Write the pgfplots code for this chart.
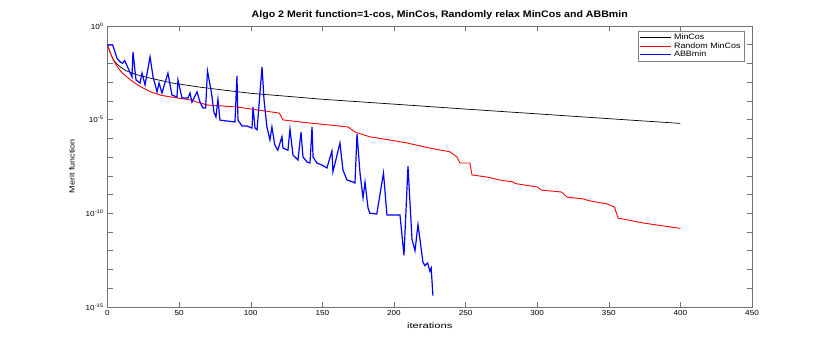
\documentclass[border=0pt]{standalone}
\usepackage{fontspec}
\setmainfont{Liberation Sans}
\usepackage{graphicx}
\usepackage{pgfplots}
\pgfplotsset{compat=1.18}
\begin{document}
\begin{tikzpicture}[x=1bp,y=1bp]
\path[use as bounding box] (0,0) rectangle (830,346);
\begin{axis}[
  at={(107.5bp,39.1bp)}, anchor=south west, scale only axis,
  width=644.5bp, height=281.1bp,
  xmin=0, xmax=450, ymin=1e-15, ymax=1, ymode=log,
  xtick={0,50,...,450},
  ytick={1e-15,1e-10,1e-5,1},
  yticklabels={10\textsuperscript{-15},10\textsuperscript{-10},10\textsuperscript{-5},10\textsuperscript{0}},
  minor ytick={1e-1,1e-2,1e-3,1e-4,1e-6,1e-7,1e-8,1e-9,1e-11,1e-12,1e-13,1e-14},
  tick align=inside, tick pos=both,
  major tick length=5bp, minor tick length=5bp,
  axis line style={black!55}, every tick/.style={black!55},
  /pgf/number format/assume math mode=true,
  tick label style={font=\fontsize{7.3}{8}\selectfont, xscale=1.12},
  title={\scalebox{1.12}[1]{Algo 2 Merit function=1-cos, MinCos, Randomly relax MinCos and ABBmin}},
  title style={font=\fontsize{9.5}{11}\bfseries\selectfont, yshift=-3bp, xshift=10bp},
  xlabel={\scalebox{1.4}[1]{iterations}},
  xlabel style={font=\fontsize{8}{10}\selectfont},
  ylabel={\scalebox{1.2}[1]{Merit function}},
  ylabel style={font=\fontsize{7.5}{9}\selectfont, at={(axis description cs:-0.055,0.5)}, anchor=center},
  legend style={at={(1,1)}, xshift=-8bp, yshift=-5bp, anchor=north east,
    draw=black!50, font=\fontsize{7.8}{8}\selectfont, inner sep=1.2bp,
    row sep=-2.6bp},
  legend cell align=left,
  legend image code/.code={\draw[#1] (0bp,0bp) -- (31bp,0bp);},
]
\addplot[black, line width=0.7bp] coordinates {
(0,1.0e-1) (2,3.5e-2) (4,1.6e-2) (6,1.0e-2) (9,6.3e-3) (13,4.0e-3) (20,2.5e-3)
(30,1.6e-3) (45,8.9e-4) (64,5.4e-4) (80,3.8e-4) (100,2.5e-4) (125,1.74e-4)
(150,1.2e-4) (200,6.6e-5) (250,3.6e-5) (300,2.0e-5) (365,9.3e-6) (400,6.2e-6)
};
\addlegendentry{\scalebox{1.15}[1]{MinCos}}
\addplot[red, line width=0.9bp] coordinates {
(0,9.5e-2) (2,3.5e-2) (4,1.5e-2) (7,6.3e-3) (10,3.2e-3) (16,1.3e-3) (22,6.3e-4)
(30,3.0e-4) (37,2.0e-4) (44,1.6e-4) (58,1.1e-4) (64,7.9e-5) (70,5.9e-5)
(90,4.7e-5) (105,3.2e-5) (120,2.2e-5) (122.5,9.5e-6) (141,6.5e-6) (155,5.1e-6)
(168,4.0e-6) (173,2.1e-6) (183,1.2e-6) (197,8.1e-7) (209,5.6e-7) (225,3.0e-7)
(239,1.9e-7) (244,1.0e-7) (246,4.8e-8) (253,4.8e-8) (254.5,1.1e-8) (265,8.5e-9)
(274,5.9e-9) (283,4.7e-9) (285,3.8e-9) (300,2.5e-9) (303,1.7e-9) (317,1.35e-9)
(321,7.2e-10) (332,5.8e-10) (337,4.5e-10) (349,3.1e-10) (354,2.1e-10)
(356.5,5.5e-11) (374,3.0e-11) (400,1.55e-11)
};
\addlegendentry{\scalebox{1.15}[1]{Random MinCos}}
\addplot[blue, line width=1.2bp] coordinates {
(0,9.5e-2) (3.6,9.5e-2) (6.6,1.9e-2) (8.7,1.2e-2) (10.5,1.0e-2) (12,1.4e-2)
(17.1,1.9e-3) (17.8,4.0e-2) (19.9,1.3e-3) (22.7,8.9e-4) (24.1,3.0e-3)
(26.2,6.9e-4) (29.7,2.2e-2) (31.8,1.9e-3) (34.6,3.0e-4) (36,8.9e-4) (38,2.6e-4)
(42.2,3.0e-3) (45,2.0e-4) (48.5,1.6e-4) (49.2,1.3e-3) (52,1.4e-4) (56.2,1.4e-4)
(57.6,2.6e-4) (59,8.5e-5) (62.5,3.0e-4) (64.6,8.5e-5) (66.7,4.1e-5) (68.5,4.1e-5)
(69.8,3.9e-3) (72.6,2.6e-4) (74.3,2.5e-5) (75.7,1.35e-5) (77.1,1.2e-4)
(78.5,9.3e-6) (83.4,8.3e-6) (89,7.4e-6) (90.4,2.1e-3) (91.1,9.3e-6) (93.9,4.5e-6)
(97.4,4.5e-6) (100.9,3.5e-6) (101.6,4.7e-5) (103,3.5e-6) (104.4,2.8e-6)
(107.9,6.3e-3) (109.3,1.1e-4) (111.3,4.0e-6) (113.4,8.1e-7) (114.8,4.0e-6)
(116.8,4.4e-7) (118.9,2.3e-7) (121.8,1.2e-6) (122.5,3.0e-7) (126,2.3e-7)
(127.4,3.1e-6) (129.5,1.26e-7) (133,6.9e-8) (135.1,2.1e-6) (136.5,1.0e-7)
(139.3,5.4e-8) (141.4,4.8e-8) (142.8,4.0e-6) (143.5,1.0e-7) (146.2,4.8e-8)
(149.7,3.7e-8) (153.2,2.6e-8) (156.7,2.1e-7) (157.4,1.6e-8) (162.3,5.6e-7)
(164.4,2.0e-8) (167.2,5.9e-9) (171.4,4.6e-9) (172.8,4.1e-9) (174.2,1.7e-6)
(176.3,1.4e-8) (178.4,6.5e-10) (179.8,4.6e-9) (181.9,1.9e-10) (183.2,1.0e-10)
(188,9.0e-11) (192.7,1.4e-8) (195.1,8.0e-11) (204.2,8.0e-11) (207,5.6e-13)
(209.8,3.2e-8) (212.6,4.0e-12) (214.7,1.0e-12) (216.8,2.5e-11) (220.2,2.5e-13)
(221.6,1.6e-13) (223.5,2.2e-13) (225.1,8.0e-14) (226,1.2e-13) (227.2,4.0e-15)
};
\addlegendentry{\scalebox{1.15}[1]{ABBmin}}
\end{axis}
\end{tikzpicture}
\end{document}
